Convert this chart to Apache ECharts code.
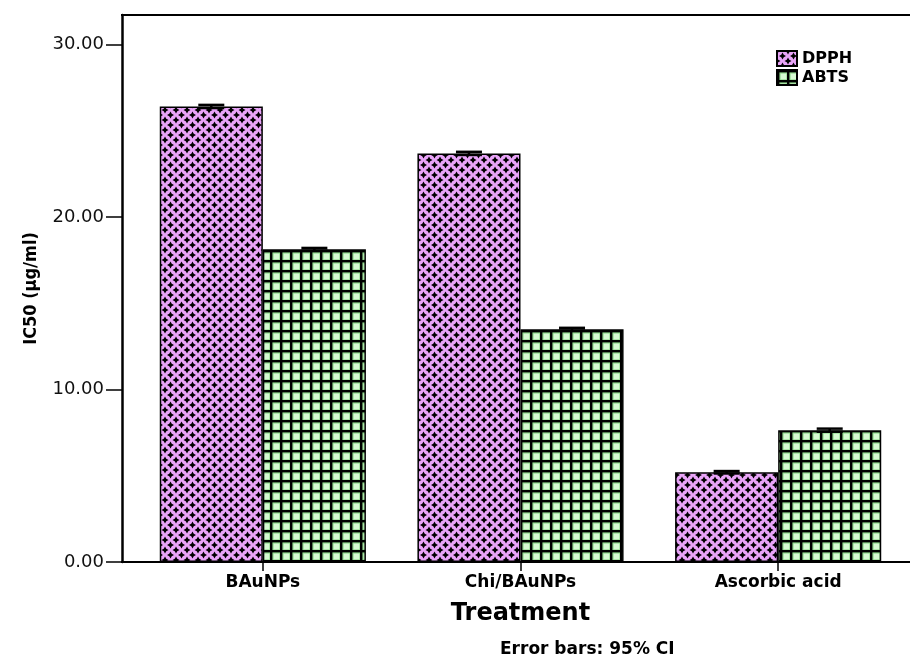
<!DOCTYPE html>
<html>
<head>
<meta charset="utf-8">
<script src="https://cdn.jsdelivr.net/npm/echarts@6/dist/echarts.min.js"></script>
<style>
  html, body { margin: 0; padding: 0; background: #fff; }
  #chart { width: 910px; height: 657px; }
</style>
</head>
<body>
<div id="chart"></div>
<script>
// IC50 values per treatment and assay
const categories = ['BAuNPs', 'Chi/BAuNPs', 'Ascorbic acid'];
const dpph = [26.40, 23.68, 5.20];
const abts = [18.12, 13.49, 7.64];
// 95% confidence intervals [lower, upper]
const dpphCI = [[26.31, 26.49], [23.59, 23.77], [5.13, 5.27]];
const abtsCI = [[18.04, 18.20], [13.41, 13.57], [7.55, 7.73]];
const yTicks = [0, 10, 20, 30];

// Fill pattern: pink ground with black four-point stars
function starTile() {
  const w = 11, h = 10;
  const c = document.createElement('canvas');
  c.width = w; c.height = h;
  const g = c.getContext('2d');
  g.fillStyle = '#e9a4f8';
  g.fillRect(0, 0, w, h);
  g.fillStyle = '#000';
  const star = (x, y) => {
    const a = 3.5, b = 1.25;
    g.beginPath();
    g.moveTo(x, y - a); g.lineTo(x + b, y - b); g.lineTo(x + a, y);
    g.lineTo(x + b, y + b); g.lineTo(x, y + a); g.lineTo(x - b, y + b);
    g.lineTo(x - a, y); g.lineTo(x - b, y - b);
    g.closePath(); g.fill();
  };
  [[0, 0], [w, 0], [0, h], [w, h], [w / 2, h / 2]].forEach(p => star(p[0], p[1]));
  return c;
}

// Fill pattern: light green cells in a black lattice
function gridTile() {
  const s = 10;
  const c = document.createElement('canvas');
  c.width = s; c.height = s;
  const g = c.getContext('2d');
  g.fillStyle = '#8ed88a';
  g.fillRect(0, 0, s, s);
  g.fillStyle = '#d6fad2';
  g.fillRect(3.6, 3.6, 5.8, 5.8);
  g.fillStyle = '#000';
  g.fillRect(0, 0, s, 2.4);
  g.fillRect(0, 0, 2.4, s);
  return c;
}

const dpphFill = { image: starTile(), repeat: 'repeat' };
const abtsFill = { image: gridTile(), repeat: 'repeat' };

// Error bars placed over the left (-1) or right (+1) bar of each group
function errorSeries(ci, side) {
  return {
    type: 'custom',
    silent: true,
    z: 10,
    data: ci.map((r, i) => [i, r[0], r[1]]),
    encode: { x: 0, y: [1, 2] },
    renderItem(params, api) {
      const band = api.size([1, 0])[0];
      const lo = api.coord([api.value(0), api.value(1)]);
      const hi = api.coord([api.value(0), api.value(2)]);
      const x = lo[0] + side * band * 0.2;
      const half = 13;
      const st = { stroke: '#000', lineWidth: 2.5 };
      return {
        type: 'group',
        children: [
          { type: 'line', shape: { x1: x, y1: hi[1], x2: x, y2: lo[1] }, style: st },
          { type: 'line', shape: { x1: x - half, y1: hi[1], x2: x + half, y2: hi[1] }, style: st },
          { type: 'line', shape: { x1: x - half, y1: lo[1], x2: x + half, y2: lo[1] }, style: st }
        ]
      };
    }
  };
}

const chart = echarts.init(document.getElementById('chart'), null, { renderer: 'canvas' });

chart.setOption({
  animation: false,
  backgroundColor: '#fff',
  title: {
    text: 'Error bars: 95% CI',
    left: 500,
    top: 641,
    padding: 0,
    textStyle: { fontFamily: 'DejaVu Sans', fontWeight: 'bold', fontSize: 17, color: '#000' }
  },
  legend: {
    data: ['DPPH', 'ABTS'],
    orient: 'vertical',
    left: 776,
    top: 50,
    padding: 0,
    itemWidth: 20,
    itemHeight: 15,
    itemGap: 2,
    icon: 'rect',
    itemStyle: { borderColor: '#000', borderWidth: 2 },
    textStyle: { fontFamily: 'DejaVu Sans', fontWeight: 'bold', fontSize: 16, color: '#000' }
  },
  grid: { left: 134, right: 3, top: 15, bottom: 95, containLabel: false },
  xAxis: {
    type: 'category',
    data: categories,
    name: 'Treatment',
    nameLocation: 'middle',
    nameGap: 40,
    nameTextStyle: { fontFamily: 'DejaVu Sans', fontWeight: 'bold', fontSize: 24, color: '#000' },
    axisLine: { show: false },
    axisTick: { show: true, alignWithLabel: true, length: 9, lineStyle: { color: '#000', width: 1.5 } },
    axisLabel: { margin: 12, fontFamily: 'DejaVu Sans', fontWeight: 'bold', fontSize: 17, color: '#000' },
    splitLine: { show: false }
  },
  yAxis: {
    type: 'value',
    min: 0,
    max: 31.7,
    offset: 12,
    name: 'IC50 (µg/ml)',
    nameLocation: 'middle',
    nameGap: 82,
    nameRotate: 90,
    nameTextStyle: { fontFamily: 'DejaVu Sans Condensed, DejaVu Sans', fontWeight: 'bold', fontSize: 18, color: '#000' },
    axisLine: { show: true, lineStyle: { color: '#000', width: 2.5 } },
    axisTick: { show: true, customValues: yTicks, length: 16, lineStyle: { color: '#000', width: 1.5 } },
    axisLabel: {
      customValues: yTicks,
      margin: 18,
      formatter: v => Number(v).toFixed(2),
      fontFamily: 'DejaVu Sans',
      fontSize: 18,
      color: '#111'
    },
    splitLine: { show: false }
  },
  graphic: [
    // frame lines spanning the full plot width
    { type: 'line', shape: { x1: 121, y1: 15, x2: 910, y2: 15 }, style: { stroke: '#000', lineWidth: 2 }, z: 20 },
    { type: 'line', shape: { x1: 121, y1: 562, x2: 910, y2: 562 }, style: { stroke: '#000', lineWidth: 2 }, z: 20 }
  ],
  series: [
    {
      name: 'DPPH',
      type: 'bar',
      data: dpph,
      barGap: '0%',
      barCategoryGap: '20%',
      itemStyle: { color: dpphFill, borderColor: '#000', borderWidth: 1.5 }
    },
    {
      name: 'ABTS',
      type: 'bar',
      data: abts,
      barGap: '0%',
      barCategoryGap: '20%',
      itemStyle: { color: abtsFill, borderColor: '#000', borderWidth: 1.5 }
    },
    errorSeries(dpphCI, -1),
    errorSeries(abtsCI, 1)
  ]
});
</script>
</body>
</html>
